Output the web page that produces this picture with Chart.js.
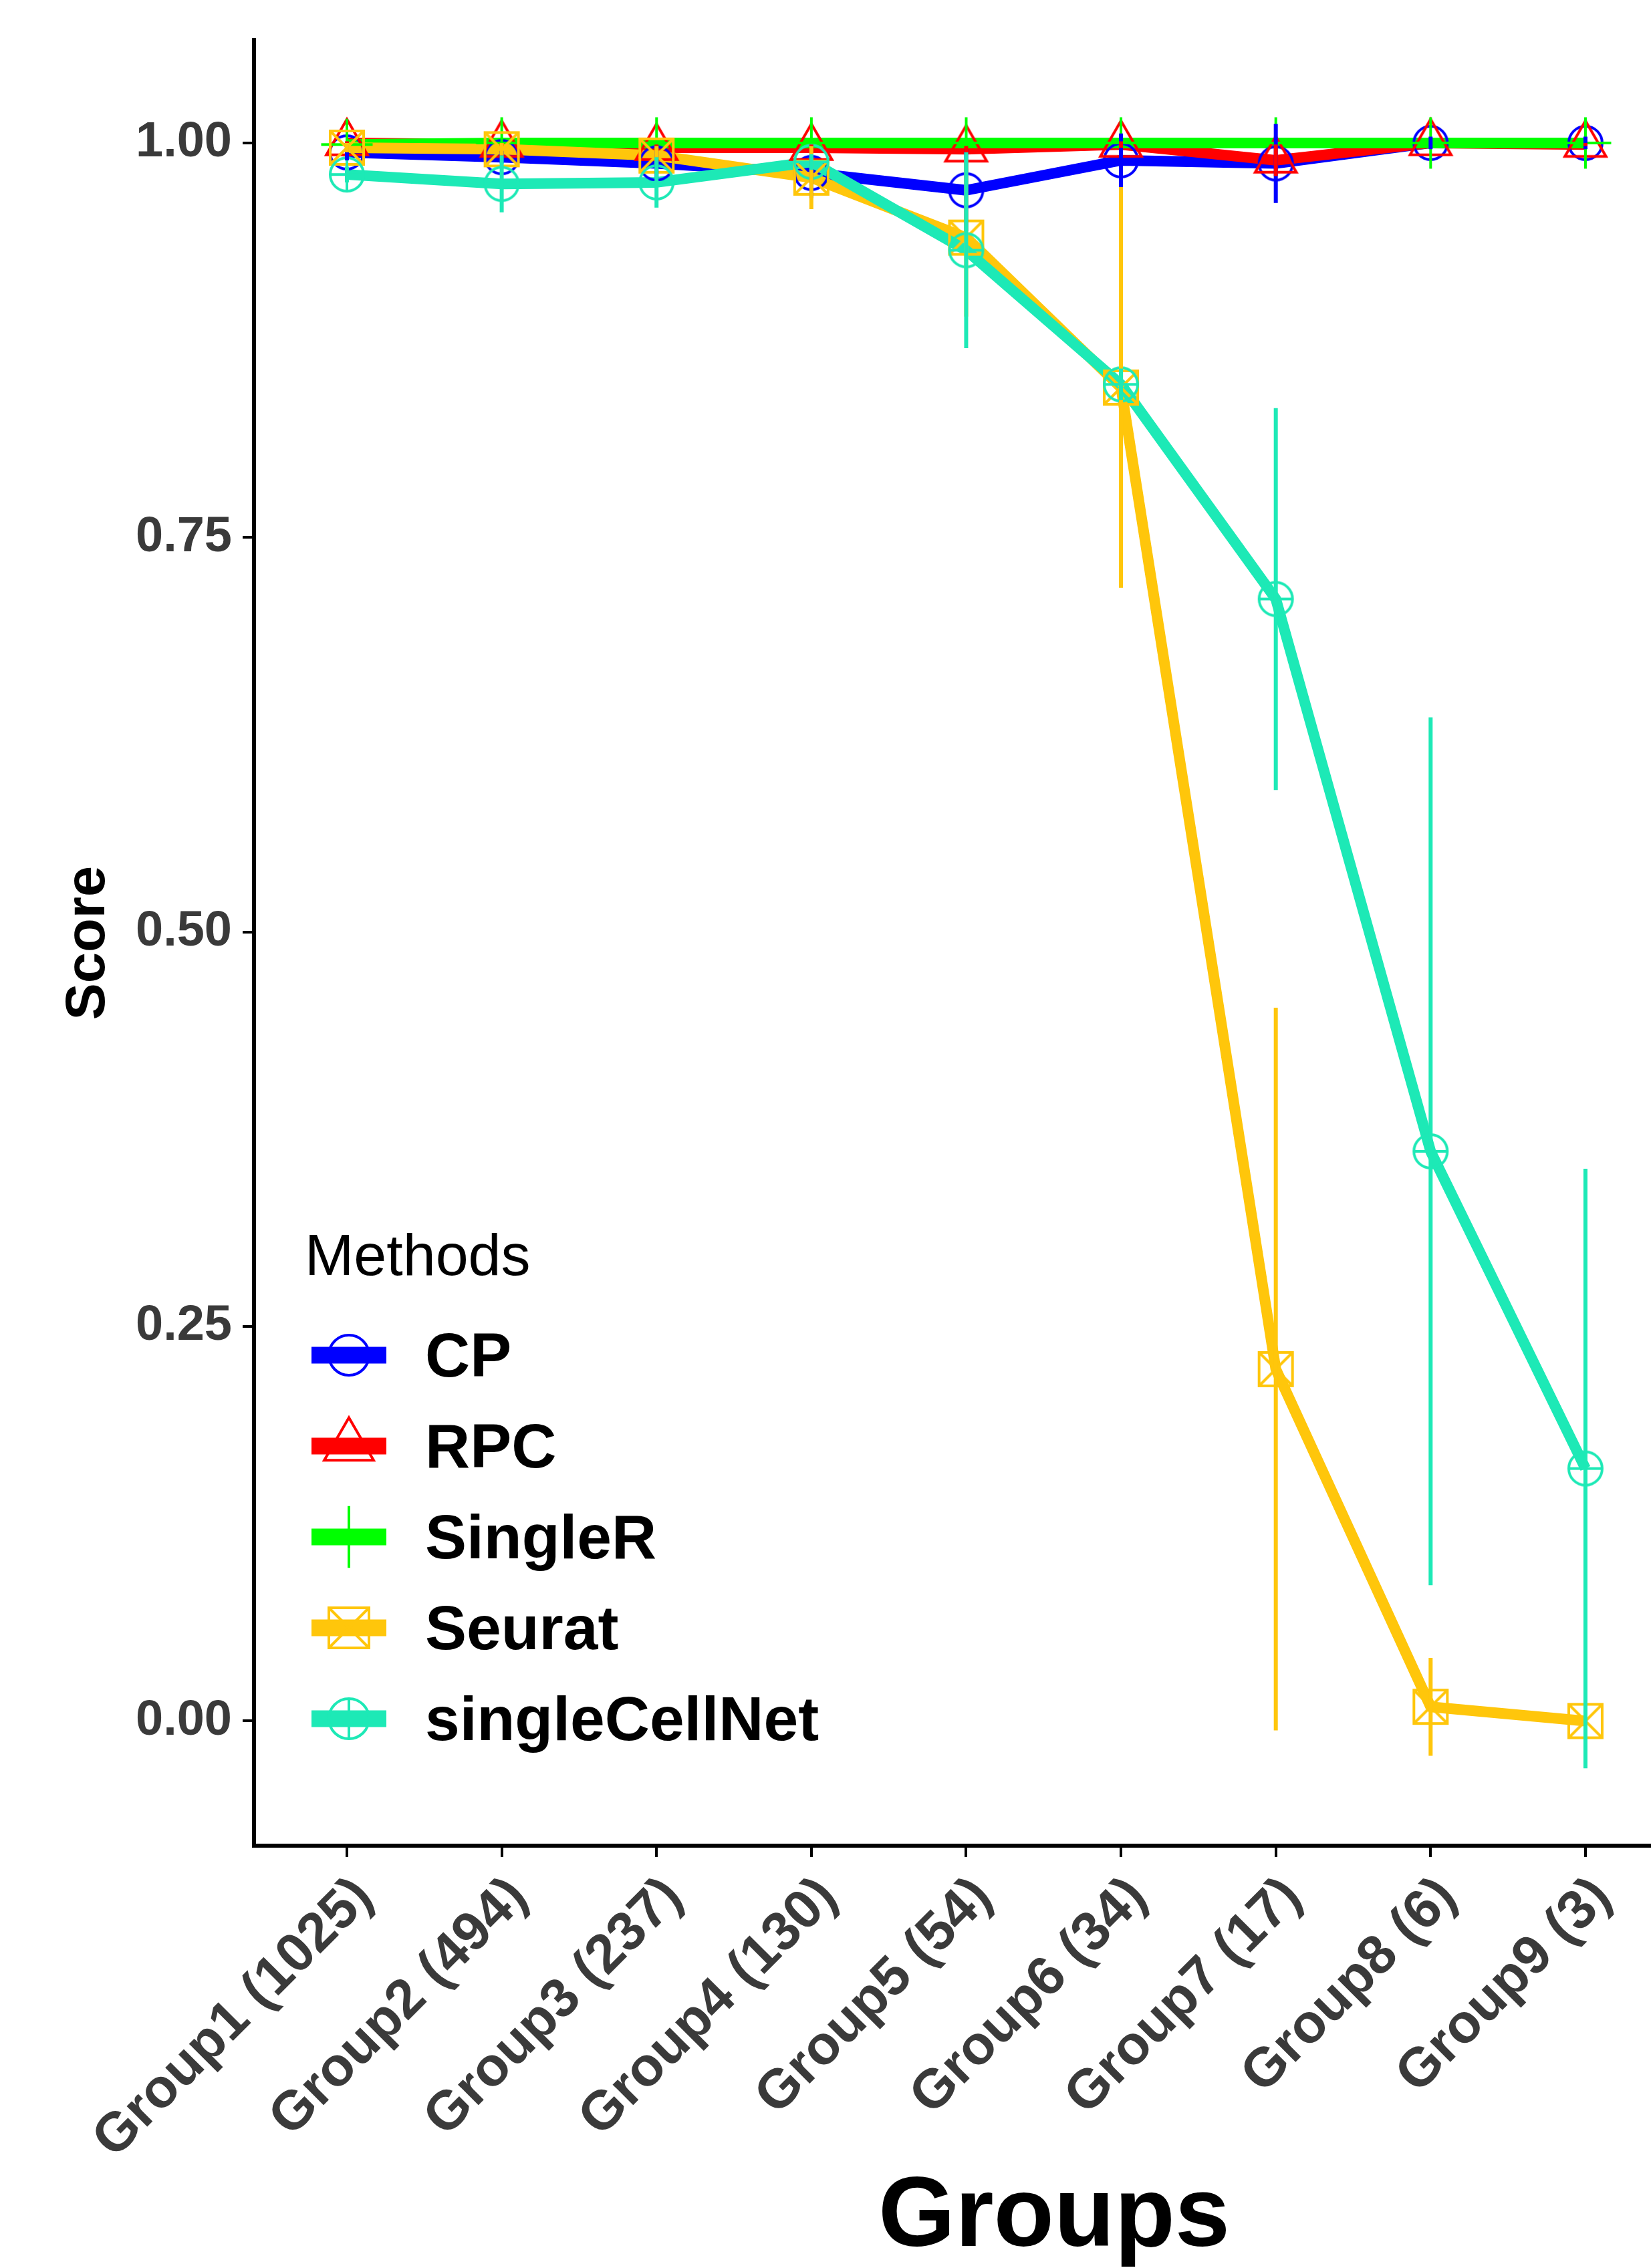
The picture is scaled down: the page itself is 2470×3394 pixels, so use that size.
<!DOCTYPE html>
<html>
<head>
<meta charset="utf-8">
<script src="https://cdn.jsdelivr.net/npm/chart.js@4.4.0/dist/chart.umd.min.js"></script>
<style>
  html, body { margin: 0; padding: 0; background: #ffffff; overflow: hidden; }
  #wrap { position: absolute; left: 0; top: 0; }
</style>
</head>
<body>
<div id="wrap"><canvas id="chart" width="2800" height="3394"></canvas></div>
<script>
// --- data ---
const categories = ['Group1 (1025)', 'Group2 (494)', 'Group3 (237)', 'Group4 (130)', 'Group5 (54)',
                    'Group6 (34)', 'Group7 (17)', 'Group8 (6)', 'Group9 (3)'];

const cpScore = [0.994, 0.991, 0.987, 0.981, 0.970, 0.989, 0.987, 1.000, 1.000];
const cpErr   = [0.005, 0.004, 0.009, 0.016, 0.026, 0.017, 0.025, 0.004, 0.004];

const rpcScore = [1.000, 0.999, 0.997, 0.997, 0.996, 0.999, 0.989, 1.000, 0.999];
const rpcErr   = [0.001, 0.001, 0.002, 0.002, 0.002, 0.002, 0.010, 0.000, 0.001];

const singleRScore = [0.999, 1.000, 1.000, 1.000, 1.000, 1.000, 1.000, 1.000, 1.000];
const singleRErr   = [0.001, 0.000, 0.000, 0.000, 0.000, 0.000, 0.000, 0.000, 0.000];

const seuratScore = [0.997, 0.996, 0.992, 0.978, 0.940, 0.845, 0.223, 0.009, 0.000];
const seuratErr   = [0.003, 0.004, 0.006, 0.020, 0.050, 0.127, 0.229, 0.031, 0.000];

const singleCellNetScore = [0.980, 0.974, 0.975, 0.988, 0.932, 0.847, 0.711, 0.361, 0.160];
const singleCellNetErr   = [0.005, 0.018, 0.016, 0.005, 0.062, 0.010, 0.121, 0.275, 0.190];

const yTickValues = [0, 0.25, 0.5, 0.75, 1];
const yTickLabels = ['0.00', '0.25', '0.50', '0.75', '1.00'];

const methodNames  = ['CP', 'RPC', 'SingleR', 'Seurat', 'singleCellNet'];
const methodScores = [cpScore, rpcScore, singleRScore, seuratScore, singleCellNetScore];
const methodErrors = [cpErr, rpcErr, singleRErr, seuratErr, singleCellNetErr];

// --- styles ---
const methodColors = ['#0000FF', '#FF0000', '#00FF00', '#FFC60B', '#1DE9B6'];
const methodShapes = ['circle', 'triangle', 'plus', 'boxX', 'circlePlus'];
const FONT = "'Liberation Sans', Arial, sans-serif";
const MARK = 50;

// draw one ggplot-like open marker
function drawMarker(ctx, shape, x, y, s, color, lw) {
    const r = s / 2;
    ctx.save();
    ctx.strokeStyle = color;
    ctx.lineWidth = lw;
    ctx.beginPath();
    if (shape === 'circle') {
        ctx.arc(x, y, r, 0, Math.PI * 2);
    } else if (shape === 'triangle') {
        const t = s * 0.71;
        const c = Math.cos(Math.PI / 6);
        ctx.moveTo(x, y - t);
        ctx.lineTo(x + t * c, y + t / 2);
        ctx.lineTo(x - t * c, y + t / 2);
        ctx.closePath();
    } else if (shape === 'plus') {
        const a = s * 0.77;
        ctx.moveTo(x - a, y); ctx.lineTo(x + a, y);
        ctx.moveTo(x, y - a); ctx.lineTo(x, y + a);
    } else if (shape === 'boxX') {
        ctx.rect(x - r, y - r, s, s);
        ctx.moveTo(x - r, y - r); ctx.lineTo(x + r, y + r);
        ctx.moveTo(x + r, y - r); ctx.lineTo(x - r, y + r);
    } else if (shape === 'circlePlus') {
        ctx.arc(x, y, r, 0, Math.PI * 2);
        ctx.moveTo(x - r, y); ctx.lineTo(x + r, y);
        ctx.moveTo(x, y - r); ctx.lineTo(x, y + r);
    }
    ctx.stroke();
    ctx.restore();
}

// marker as a small canvas, used as pointStyle
function markerCanvas(shape, color) {
    const size = Math.ceil(MARK * 1.8);
    const c = document.createElement('canvas');
    c.width = size; c.height = size;
    drawMarker(c.getContext('2d'), shape, size / 2, size / 2, MARK, color, 4);
    return c;
}

// vertical error bars, drawn through the scales
const errorBars = {
    id: 'errorBars',
    afterDatasetsDraw(chart) {
        const { ctx, chartArea, scales: { x, y } } = chart;
        ctx.save();
        ctx.beginPath();
        ctx.rect(chartArea.left, chartArea.top, chartArea.right - chartArea.left, chartArea.bottom - chartArea.top);
        ctx.clip();
        ctx.lineWidth = 6;
        methodScores.forEach((scores, i) => {
            ctx.strokeStyle = methodColors[i];
            scores.forEach((v, j) => {
                const e = methodErrors[i][j];
                if (!e) return;
                const px = x.getPixelForValue(j + 1);
                ctx.beginPath();
                ctx.moveTo(px, y.getPixelForValue(v - e));
                ctx.lineTo(px, y.getPixelForValue(v + e));
                ctx.stroke();
            });
        });
        ctx.restore();
    }
};

// legend inside the panel, ggplot style
const methodsLegend = {
    id: 'methodsLegend',
    afterDraw(chart) {
        const ctx = chart.ctx;
        ctx.save();
        ctx.fillStyle = '#000000';
        ctx.textBaseline = 'alphabetic';
        ctx.textAlign = 'left';
        ctx.font = '88px ' + FONT;
        ctx.fillText('Methods', 456, 1908);
        methodNames.forEach((name, i) => {
            const cy = 2028 + i * 136;
            ctx.strokeStyle = methodColors[i];
            ctx.lineWidth = 25;
            ctx.lineCap = 'butt';
            ctx.beginPath();
            ctx.moveTo(466, cy);
            ctx.lineTo(578, cy);
            ctx.stroke();
            drawMarker(ctx, methodShapes[i], 522, cy, MARK * 1.2, methodColors[i], 4);
            ctx.fillStyle = '#000000';
            ctx.font = 'bold 93px ' + FONT;
            ctx.fillText(name, 636, cy + 32);
        });
        ctx.restore();
    }
};

const datasets = [];
// lines first (under every marker)
methodNames.forEach((name, i) => {
    datasets.push({
        label: name,
        data: methodScores[i].map((v, j) => ({ x: j + 1, y: v })),
        borderColor: methodColors[i],
        borderWidth: 16,
        borderJoinStyle: 'round',
        pointRadius: 0,
        fill: false,
        order: 20 - i
    });
});
// then markers
methodNames.forEach((name, i) => {
    datasets.push({
        label: name + ' points',
        data: methodScores[i].map((v, j) => ({ x: j + 1, y: v })),
        showLine: false,
        pointStyle: markerCanvas(methodShapes[i], methodColors[i]),
        pointRadius: 25,
        order: 10 - i
    });
});

Chart.defaults.font.family = FONT;

new Chart(document.getElementById('chart'), {
    type: 'line',
    data: { datasets: datasets },
    options: {
        responsive: false,
        devicePixelRatio: 1,
        animation: false,
        layout: { padding: { top: 53, left: 0, right: 18, bottom: 0 } },
        plugins: {
            legend: { display: false },
            tooltip: { enabled: false }
        },
        scales: {
            x: {
                type: 'linear',
                min: 0.4,
                max: 10.736,
                afterBuildTicks: (scale) => { scale.ticks = categories.map((c, j) => ({ value: j + 1 })); },
                afterFit: (scale) => { scale.height = 632; },
                border: { display: true, color: '#000000', width: 6 },
                grid: { display: true, drawOnChartArea: false, drawTicks: true, tickLength: 17, color: '#000000', lineWidth: 4 },
                ticks: {
                    autoSkip: false,
                    minRotation: 45,
                    maxRotation: 45,
                    padding: 12,
                    labelOffset: 26,
                    color: '#3A3A3A',
                    font: { size: 82, weight: 'bold' },
                    callback: (v) => categories[Math.round(v) - 1]
                },
                title: {
                    display: true,
                    text: 'Groups',
                    color: '#000000',
                    font: { size: 148, weight: 'bold', lineHeight: 1 },
                    padding: { top: 0, bottom: 0 }
                }
            },
            y: {
                min: -0.079,
                max: 1.065,
                afterBuildTicks: (scale) => { scale.ticks = yTickValues.map(v => ({ value: v })); },
                afterFit: (scale) => { scale.width = 380; },
                border: { display: true, color: '#000000', width: 6 },
                grid: { display: true, drawOnChartArea: false, drawTicks: true, tickLength: 17, color: '#000000', lineWidth: 4 },
                ticks: {
                    padding: 16,
                    color: '#3A3A3A',
                    font: { size: 74, weight: 'bold' },
                    callback: (v) => yTickLabels[yTickValues.indexOf(v)]
                },
                title: {
                    display: true,
                    text: 'Score',
                    color: '#000000',
                    font: { size: 83, weight: 'bold', lineHeight: 1 },
                    padding: { top: 92, bottom: 0 }
                }
            }
        }
    },
    plugins: [errorBars, methodsLegend]
});
</script>
</body>
</html>
